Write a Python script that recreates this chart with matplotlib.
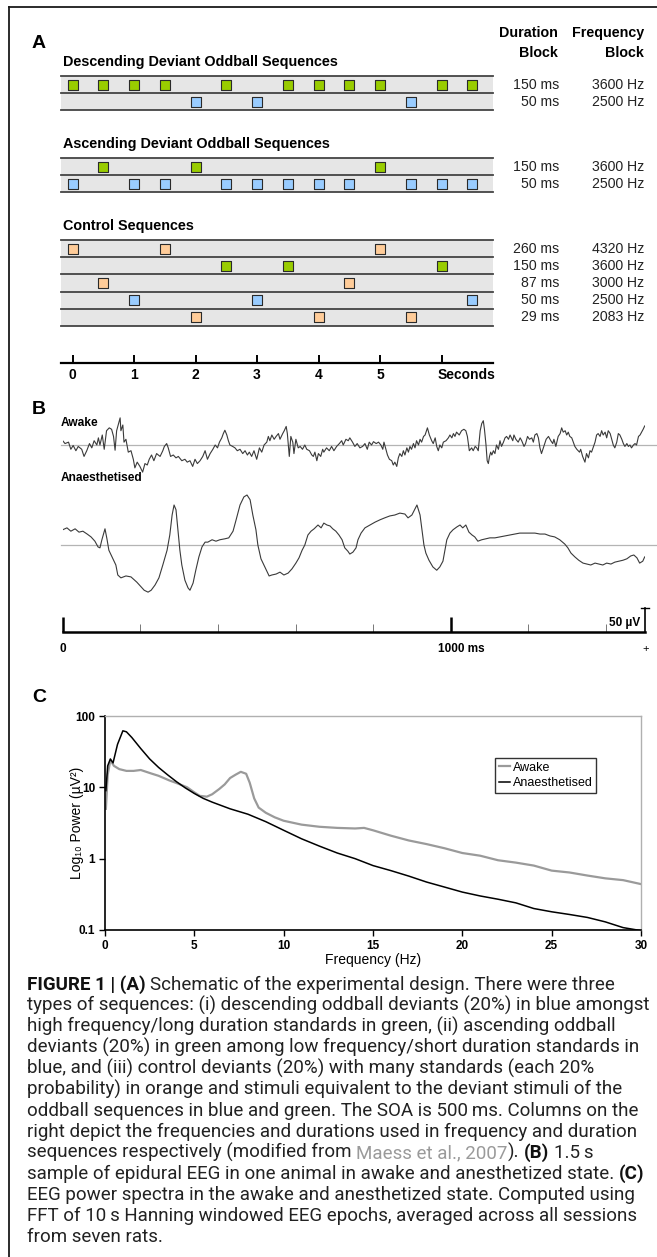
import matplotlib
matplotlib.use('Agg')
import matplotlib.pyplot as plt
from matplotlib.lines import Line2D
from matplotlib.transforms import blended_transform_factory

W, H, DPI = 657, 1257, 100
plt.rcParams['font.family'] = ['Liberation Sans', 'DejaVu Sans']

# ---------------- panel A: stimulus sequences (times in s) ----------------
green = '#99cc00'
blue = '#99ccff'
orange = '#ffcc99'

desc_std_times = [0, 0.5, 1, 1.5, 2.5, 3.5, 4, 4.5, 5, 6, 6.5]
desc_dev_times = [2, 3, 5.5]
asc_dev_times = [0.5, 2, 5]
asc_std_times = [0, 1, 1.5, 2.5, 3, 3.5, 4, 4.5, 5.5, 6, 6.5]
ctrl_times = [[0, 1.5, 5], [2.5, 3.5, 6], [0.5, 4.5], [1, 3, 6.5], [2, 4, 5.5]]
ctrl_colors = [orange, green, orange, blue, orange]

odd_durations = ['150 ms', '50 ms']
odd_freqs = ['3600 Hz', '2500 Hz']
ctrl_durations = ['260 ms', '150 ms', '87 ms', '50 ms', '29 ms']
ctrl_freqs = ['4320 Hz', '3600 Hz', '3000 Hz', '2500 Hz', '2083 Hz']
time_ticks = [0, 1, 2, 3, 4, 5, 6]
time_labels = ['0', '1', '2', '3', '4', '5', '']

# ---------------- panel B: EEG samples (ms, uV) ----------------
aw_t = [0, 6, 15, 21, 27, 34, 40, 49, 55, 62,
        69, 75, 81, 88, 92, 96, 102, 107, 113, 120,
        126, 131, 135, 139, 143, 148, 150, 155, 158, 163,
        169, 176, 182, 186, 192, 199, 206, 212, 218, 223,
        229, 235, 242, 251, 258, 262, 268, 272, 278, 285,
        292, 298, 307, 315, 321, 328, 335, 341, 347, 354,
        361, 367, 373, 380, 387, 393, 399, 404, 410, 414,
        418, 423, 427, 431, 438, 444, 450, 457, 464, 470,
        476, 481, 487, 493, 500, 507, 513, 519, 526, 530,
        534, 539, 545, 550, 556, 560, 567, 571, 576, 579,
        584, 588, 593, 596, 601, 607, 612, 618, 624, 629,
        636, 642, 646, 650, 655, 659, 665, 670, 673, 680,
        687, 693, 699, 706, 713, 719, 723, 730, 736, 740,
        747, 753, 759, 766, 773, 779, 785, 790, 796, 801,
        808, 814, 820, 825, 828, 833, 837, 842, 848, 852,
        856, 861, 865, 869, 874, 878, 882, 887, 891, 895,
        899, 904, 908, 912, 917, 921, 925, 930, 934, 940,
        945, 951, 955, 960, 964, 968, 972, 977, 981, 988,
        994, 998, 1003, 1007, 1011, 1015, 1022, 1028, 1034, 1039,
        1043, 1048, 1054, 1058, 1063, 1067, 1071, 1076, 1080, 1084,
        1087, 1091, 1094, 1097, 1100, 1103, 1106, 1110, 1114, 1118,
        1123, 1127, 1131, 1136, 1140, 1144, 1149, 1153, 1160, 1163,
        1168, 1174, 1179, 1183, 1189, 1193, 1198, 1203, 1209, 1213,
        1217, 1222, 1226, 1230, 1234, 1240, 1246, 1252, 1258, 1263,
        1266, 1271, 1277, 1282, 1286, 1290, 1295, 1299, 1303, 1307,
        1312, 1316, 1320, 1325, 1332, 1335, 1340, 1346, 1350, 1355,
        1359, 1363, 1368, 1372, 1376, 1380, 1385, 1389, 1393, 1398,
        1402, 1406, 1411, 1415, 1419, 1423, 1428, 1432, 1436, 1441,
        1445, 1449, 1454, 1458, 1462, 1466, 1471, 1475, 1479, 1484,
        1488, 1492, 1496, 1500]
aw_uv = [9, 3, 6, -9, -1, -12, -3, -9, -24, -12,
         3, -6, 9, 0, 15, 0, 21, -9, 30, 36,
         33, 18, -11, 30, 42, 57, 30, 42, 6, 12,
         -15, -12, -30, -48, -36, -45, -57, -39, -42, -30,
         -21, -33, -18, -24, -12, -3, 3, -6, -24, -21,
         -27, -24, -33, -30, -36, -33, -45, -30, -39, -33,
         -24, -12, -30, -18, -9, 0, -6, 6, 15, 24,
         31, 21, 9, 0, -3, -6, -12, -9, -18, -12,
         -21, -15, -24, -12, -30, -6, -15, 0, 6, 18,
         9, 21, 12, 18, 24, 12, 24, 30, 39, 24,
         -24, 18, 6, -18, 12, -6, -3, -9, 0, -9,
         -12, -21, -24, -15, -33, -18, -24, -9, -15, -6,
         -12, -3, -12, -3, 3, 9, 0, 12, 9, 15,
         6, -3, 3, -6, -3, 3, -9, 6, 0, 7,
         3, 6, 0, -9, 6, -9, -21, -30, -33, -42,
         -36, -45, -27, -18, -24, -12, -21, -6, -15, -3,
         -9, 3, -6, 9, 0, 12, 6, 18, 21, 36,
         21, 9, 3, 15, -3, -12, 0, -6, 6, 9,
         15, 21, 15, 24, 18, 27, 21, 30, 33, 30,
         18, -12, -6, -12, -3, -6, -12, 30, 45, 51,
         33, 0, -33, -39, -24, -15, -21, -12, -18, 0,
         -9, 9, -3, 6, 15, 18, 12, 21, 9, 21,
         12, 6, 15, 9, -3, 3, 18, 12, 15, 6,
         21, 24, 15, -6, -18, -3, 12, 18, 9, 3,
         12, -3, 18, 24, 36, 27, 30, 21, 27, 18,
         15, 6, -3, -9, -15, -9, -24, -36, -18, -27,
         -12, -15, -3, 6, 21, 24, 18, 30, 21, 27,
         15, 30, 24, 12, 0, -6, 6, 24, 21, 12,
         3, -3, 3, -3, 0, -6, 0, 3, 0, 18,
         21, 27, 33, 40]

an_t = [0, 11, 21, 32, 42, 52, 63, 73, 83, 91,
        96, 101, 109, 114, 119, 127, 137, 142, 150, 163,
        176, 191, 202, 210, 220, 228, 238, 248, 258, 269,
        276, 282, 287, 292, 297, 302, 307, 315, 323, 328,
        336, 343, 351, 359, 367, 374, 385, 395, 405, 418,
        428, 439, 446, 457, 467, 475, 483, 490, 498, 503,
        511, 521, 532, 539, 550, 560, 570, 581, 591, 601,
        609, 617, 624, 632, 640, 648, 658, 666, 673, 681,
        689, 696, 704, 712, 720, 727, 735, 740, 748, 756,
        761, 769, 779, 792, 805, 818, 830, 843, 856, 869,
        882, 890, 900, 908, 913, 921, 926, 931, 936, 944,
        954, 964, 972, 980, 985, 990, 998, 1006, 1016, 1024,
        1031, 1039, 1047, 1055, 1062, 1070, 1080, 1091, 1101, 1114,
        1127, 1140, 1153, 1165, 1178, 1191, 1204, 1217, 1230, 1243,
        1256, 1268, 1281, 1294, 1302, 1310, 1320, 1330, 1341, 1351,
        1361, 1372, 1382, 1392, 1402, 1413, 1423, 1433, 1444, 1454,
        1464, 1472, 1480, 1487, 1495, 1500]
an_uv = [32, 36, 29, 34, 27, 29, 23, 17, 8, -4,
         -6, 11, 34, 13, -11, -25, -42, -63, -69, -65,
         -67, -78, -88, -95, -99, -95, -84, -69, -42, -11,
         21, 63, 84, 74, 32, -11, -42, -74, -90, -95,
         -80, -53, -25, -4, 6, 6, 11, 8, 11, 13,
         15, 29, 50, 84, 101, 105, 95, 63, 32, 0,
         -29, -46, -65, -63, -61, -57, -63, -59, -50, -38,
         -27, -11, 0, 21, 29, 34, 42, 36, 46, 42,
         40, 34, 29, 21, 11, -6, -13, -19, -15, -6,
         11, 25, 36, 42, 48, 53, 57, 61, 63, 67,
         65, 57, 63, 76, 84, 63, 32, 0, -17, -32,
         -46, -53, -46, -34, -11, 11, 25, 32, 38, 42,
         36, 42, 27, 21, 17, 8, 11, 13, 15, 15,
         17, 19, 21, 23, 25, 25, 25, 25, 23, 23,
         19, 17, 11, 2, -6, -17, -25, -32, -38, -40,
         -42, -38, -40, -42, -38, -40, -36, -34, -32, -29,
         -23, -21, -27, -38, -34, -25]
UV_PER_PX = 2.1
bar_major = [0, 1000]
bar_minor = [200, 400, 600, 800, 1200, 1400]

# ---------------- panel C: power spectra ----------------
f_awake = [0.05, 0.15, 0.3, 0.5, 0.8, 1.2, 1.6, 2.0, 2.6, 3.0,
           3.6, 4.0, 4.6, 5.0, 5.3, 5.7, 6.0, 6.4, 6.7, 7.0,
           7.3, 7.6, 7.9, 8.1, 8.35, 8.6, 9.0, 9.5, 10, 11,
           12, 13, 14, 14.5, 15, 16, 17, 18, 19, 20,
           21, 22, 23, 24, 25, 26, 27, 28, 29, 30]
p_awake = [5, 15, 24, 20, 18, 17, 17, 17.5, 15.6, 14.5,
           12.5, 11.5, 10, 8.5, 7.6, 7.4, 8, 9.5, 11, 13.5,
           15, 16.5, 15.5, 11.6, 7, 5.2, 4.4, 3.8, 3.4, 3.0,
           2.8, 2.7, 2.65, 2.7, 2.5, 2.1, 1.8, 1.6, 1.4, 1.2,
           1.1, 0.95, 0.88, 0.8, 0.68, 0.64, 0.58, 0.53, 0.5, 0.44]
f_anaes = [0.05, 0.15, 0.3, 0.45, 0.7, 1.0, 1.2, 1.5, 2.0, 2.5,
           3.0, 3.5, 4.0, 4.5, 5.0, 5.5, 6.0, 7.0, 8.0, 9.0,
           10, 11, 12, 13, 14, 15, 16, 17, 18, 19,
           20, 21, 22, 23, 24, 25, 26, 27, 28, 29, 30]
p_anaes = [9, 20, 25, 22, 40, 62, 60, 50, 35, 25,
           19, 15, 12, 9.8, 8.2, 7.0, 6.2, 5.0, 4.2, 3.3,
           2.5, 1.9, 1.5, 1.2, 1.0, 0.8, 0.68, 0.57, 0.47, 0.4,
           0.34, 0.3, 0.27, 0.24, 0.2, 0.18, 0.165, 0.15, 0.13, 0.108, 0.098]

caption_lines = [
    [('FIGURE 1 | (A)', 'b'), (' Schematic of the experimental design. There were three', 'n')],
    [('types of sequences: (i) descending oddball deviants (20%) in blue amongst', 'n')],
    [('high frequency/long duration standards in green, (ii) ascending oddball', 'n')],
    [('deviants (20%) in green among low frequency/short duration standards in', 'n')],
    [('blue, and (iii) control deviants (20%) with many standards (each 20%', 'n')],
    [('probability) in orange and stimuli equivalent to the deviant stimuli of the', 'n')],
    [('oddball sequences in blue and green. The SOA is 500\u2009ms. Columns on the', 'n')],
    [('right depict the frequencies and durations used in frequency and duration', 'n')],
    [('sequences respectively (modified from ', 'n'), ('Maess et al., 2007', 'g'),
     ('). ', 'n'), ('(B)', 'b'), (' 1.5\u2009s', 'n')],
    [('sample of epidural EEG in one animal in awake and anesthetized state. ', 'n'), ('(C)', 'b')],
    [('EEG power spectra in the awake and anesthetized state. Computed using', 'n')],
    [('FFT of 10\u2009s Hanning windowed EEG epochs, averaged across all sessions', 'n')],
    [('from seven rats.', 'n')],
]

fig = plt.figure(figsize=(W / DPI, H / DPI), dpi=DPI)


def px_axes(x0, y0, x1, y1):
    return fig.add_axes([x0 / W, 1 - y1 / H, (x1 - x0) / W, (y1 - y0) / H])


def ftext(x, y, s, **kw):
    return fig.text(x / W, 1 - y / H, s, **kw)


# outer frame (left and top rules)
fig.add_artist(Line2D([9 / W, 9 / W], [1 - 7 / H, 0], color='#1a1a1a', lw=1.3))
fig.add_artist(Line2D([9 / W, 1], [1 - 7 / H, 1 - 7 / H], color='#1a1a1a', lw=1.3))

# ---------------- panel A ----------------
T_LEFT, T_RIGHT = -0.187, 6.837
ROW_H = 17.2


def seq_block(y_top, title, rows, durs, freqs):
    n = len(rows)
    ax = px_axes(61, y_top, 493, y_top + n * ROW_H)
    ax.set_xlim(T_LEFT, T_RIGHT)
    ax.set_ylim(n, 0)
    ax.set_facecolor('#e6e6e6')
    ax.set_xticks([])
    ax.set_yticks([])
    for sp in ax.spines.values():
        sp.set_visible(False)
    for k in range(n + 1):
        ax.axhline(k, color='#444444', lw=1.3, clip_on=False)
    for i, (times, col) in enumerate(rows):
        ax.scatter(times, [i + 0.5] * len(times), marker='s', s=60, c=col,
                   edgecolors='#2a2a2a', linewidths=0.8, zorder=3, clip_on=False)
    tr = blended_transform_factory(fig.transFigure, ax.transData)
    for i in range(n):
        ax.text(559 / W, i + 0.5, durs[i], transform=tr, ha='right', va='center',
                fontsize=10.2, color='#222222')
        ax.text(644 / W, i + 0.5, freqs[i], transform=tr, ha='right', va='center',
                fontsize=10.2, color='#222222')
    ftext(63, y_top - 14, title, fontsize=10.4, fontweight='bold', va='center')
    return ax


ftext(32, 44, 'A', fontsize=14, fontweight='bold', va='center')
ftext(558, 33, 'Duration', fontsize=10.3, fontweight='bold', ha='right', va='center')
ftext(558, 53, 'Block', fontsize=10.3, fontweight='bold', ha='right', va='center')
ftext(644, 33, 'Frequency', fontsize=10.3, fontweight='bold', ha='right', va='center')
ftext(644, 53, 'Block', fontsize=10.3, fontweight='bold', ha='right', va='center')

seq_block(76, 'Descending Deviant Oddball Sequences',
          [(desc_std_times, green), (desc_dev_times, blue)], odd_durations, odd_freqs)
seq_block(158, 'Ascending Deviant Oddball Sequences',
          [(asc_dev_times, green), (asc_std_times, blue)], odd_durations, odd_freqs)
seq_block(240, 'Control Sequences',
          list(zip(ctrl_times, ctrl_colors)), ctrl_durations, ctrl_freqs)

axt = px_axes(61, 335, 493, 363)
axt.set_xlim(T_LEFT, T_RIGHT)
axt.patch.set_visible(False)
for s in ['top', 'left', 'right']:
    axt.spines[s].set_visible(False)
axt.spines['bottom'].set_linewidth(1.6)
axt.set_yticks([])
axt.set_xticks(time_ticks)
axt.set_xticklabels(time_labels, fontweight='bold', fontsize=10)
axt.tick_params(axis='x', direction='in', length=6, width=1.4, pad=3.5)
axt.annotate('Seconds', xy=(6, 0), xycoords=('data', 'axes fraction'),
             xytext=(-3, -3.5), textcoords='offset points', ha='left', va='top',
             fontweight='bold', fontsize=10)

# ---------------- panel B ----------------
B_X0, B_X1 = 62.7, 644.7


def trace_axes(y_top, y_bot, y_base):
    ax = px_axes(B_X0, y_top, B_X1, y_bot)
    ax.set_xlim(0, 1500)
    ax.set_ylim(-(y_bot - y_base) * UV_PER_PX, (y_base - y_top) * UV_PER_PX)
    ax.axis('off')
    return ax


ftext(32, 409, 'B', fontsize=14, fontweight='bold', va='center')

ax_aw = trace_axes(400, 490, 445)
ax_aw.axhline(0, xmin=-0.003, xmax=1.02, color='#b4b4b4', lw=0.9, clip_on=False, zorder=1)
ax_aw.plot(aw_t, aw_uv, color='#3a3a3a', lw=0.8, zorder=2)
ftext(61, 423, 'Awake', fontsize=8.6, fontweight='bold', va='center')

ax_an = trace_axes(490, 600, 545)
ax_an.axhline(0, xmin=-0.003, xmax=1.02, color='#b4b4b4', lw=0.9, clip_on=False, zorder=1)
ax_an.plot(an_t, an_uv, color='#3a3a3a', lw=0.8, zorder=2)
ftext(61, 478, 'Anaesthetised', fontsize=8.6, fontweight='bold', va='center')

ax_sb = trace_axes(600, 645, 632)
ax_sb.axis('on')
ax_sb.patch.set_visible(False)
for s in ['top', 'left', 'right']:
    ax_sb.spines[s].set_visible(False)
ax_sb.spines['bottom'].set_position(('data', 0))
ax_sb.spines['bottom'].set_linewidth(1.8)
ax_sb.set_yticks([])
ax_sb.set_xticks(bar_major)
ax_sb.set_xticks(bar_minor, minor=True)
ax_sb.set_xticklabels([])
ax_sb.tick_params(axis='x', which='major', direction='in', length=11, width=1.8)
ax_sb.tick_params(axis='x', which='minor', direction='in', length=6, width=0.7, color='#777777')
ax_sb.plot([1500, 1500], [0, 50], color='black', lw=1.2, clip_on=False)
ax_sb.plot([1490, 1510], [50, 50], color='black', lw=1.0, clip_on=False)
ax_sb.annotate('0', xy=(0, 0), xytext=(0, -12), textcoords='offset points',
               ha='center', va='center', fontsize=8.5, fontweight='bold')
ax_sb.annotate('1000 ms', xy=(1000, 0), xytext=(-9, -12), textcoords='offset points',
               ha='left', va='center', fontsize=8.5, fontweight='bold')
ax_sb.annotate('50 \u00b5V', xy=(1500, 18), xytext=(-3, 0), textcoords='offset points',
               ha='right', va='center', fontsize=8.5, fontweight='bold')
ax_sb.annotate('+', xy=(1500, 0), xytext=(1, -12), textcoords='offset points',
               ha='center', va='center', fontsize=8)

# ---------------- panel C ----------------
ftext(32, 698, 'C', fontsize=14, fontweight='bold', va='center')
axc = px_axes(105, 716, 641, 930)
axc.set_yscale('log')
axc.plot(f_awake, p_awake, color='#9a9a9a', lw=1.6, label='Awake')
axc.plot(f_anaes, p_anaes, color='black', lw=1.1, label='Anaesthetised')
axc.set_xlim(0, 30)
axc.set_ylim(0.1, 100)
axc.set_xticks([0, 5, 10, 15, 20, 25, 30])
axc.set_yticks([0.1, 1, 10, 100])
axc.set_yticklabels(['0.1', '1', '10', '100'])
axc.minorticks_off()
for lab in axc.get_xticklabels() + axc.get_yticklabels():
    lab.set_fontweight('bold')
    lab.set_fontsize(8.5)
axc.tick_params(direction='out', length=4, width=1, pad=3)
for s in ['left', 'bottom']:
    axc.spines[s].set_linewidth(1.2)
for s in ['top', 'right']:
    axc.spines[s].set_color('#b0b0b0')
    axc.spines[s].set_linewidth(1.0)
axc.set_xlabel('Frequency (Hz)', fontsize=10, labelpad=1)
axc.set_ylabel('Log\u2081\u2080 Power (\u00b5V\u00b2)', fontsize=10)
axc.yaxis.set_label_coords(-0.04, 0.5)
leg = axc.legend(loc='upper left', bbox_to_anchor=((495 - 105) / 536, (930 - 758) / 214),
                 frameon=True, fancybox=False, fontsize=9, handlelength=0.9,
                 handletextpad=0.2, borderpad=0.3, borderaxespad=0, labelspacing=0.25)
leg.get_frame().set_edgecolor('black')
leg.get_frame().set_linewidth(1.0)

# ---------------- caption ----------------
r = fig.canvas.get_renderer()
styles = {'n': dict(fontweight='normal', color='#222222'),
          'b': dict(fontweight='bold', color='#111111'),
          'g': dict(fontweight='normal', color='#9a9a9a')}
cap_family = ['Roboto', 'DejaVu Sans']


def text_w(s, size, st):
    t = fig.text(0, 0, s, fontsize=size, family=cap_family, **styles[st])
    w = t.get_window_extent(r).width
    t.remove()
    return w


def seg_w(s, size, st):
    return text_w('|' + s + '|', size, st) - text_w('||', size, st)


probe = caption_lines[1][0][0]
cap_size = 10 * 623 / text_w(probe, 10, 'n')
y = 990
for line in caption_lines:
    x = 27
    for s, st in line:
        lead = len(s) - len(s.lstrip(' '))
        xs = x + (seg_w(' ' * lead, cap_size, st) if lead else 0)
        ftext(xs, y, s.strip(' '), fontsize=cap_size, family=cap_family,
              va='baseline', ha='left', **styles[st])
        x += seg_w(s, cap_size, st)
    y += 21

fig.savefig('out.png', dpi=DPI)
